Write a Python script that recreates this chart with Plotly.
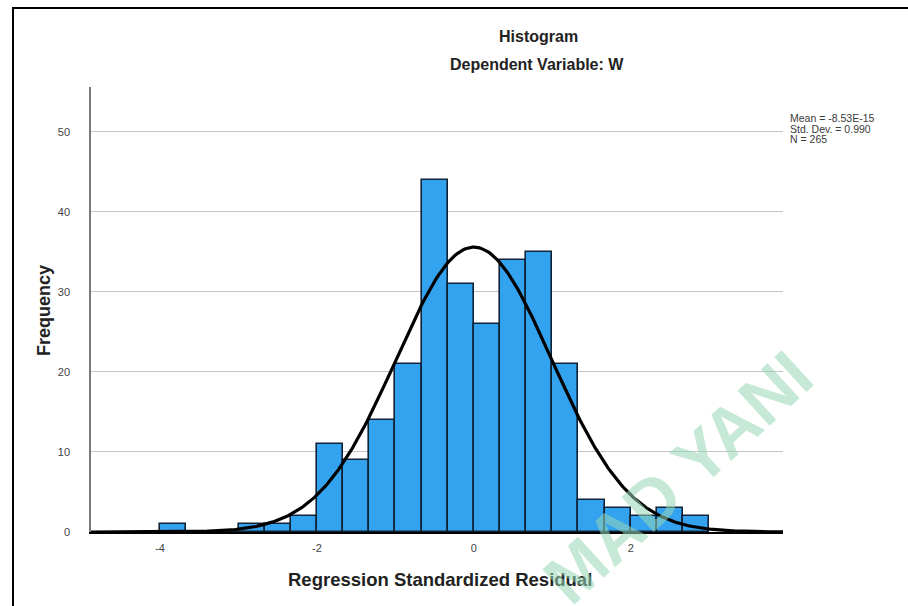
import numpy as np
import plotly.graph_objects as go

# Histogram of regression standardized residuals (bin width 1/3)
bin_left_edges = [-4.0, -11/3, -10/3, -3.0, -8/3, -7/3, -2.0, -5/3, -4/3, -1.0, -2/3,
                  -1/3, 0.0, 1/3, 2/3, 1.0, 4/3, 5/3, 2.0, 7/3, 8/3]
bin_counts = [1, 0, 0, 1, 1, 2, 11, 9, 14, 21, 44, 31, 26, 34, 35, 21, 4, 3, 2, 3, 2]
bin_width = 1/3

# Summary statistics shown beside the chart
stat_mean = -8.53e-15
stat_sd = 0.990
stat_n = 265

x_ticks = [-4, -2, 0, 2]
y_ticks = [0, 10, 20, 30, 40, 50]

FONT = "Liberation Sans, Arial, sans-serif"

# plot-area geometry in pixels (used to place the paper-anchored texts)
L, R, T, B = 91, 783, 87, 532
PW, PH = R - L, B - T


def px(xp):
    return (xp - L) / PW


def py(yp):
    return (B - yp) / PH


centers = [e + bin_width / 2 for e in bin_left_edges]

# Fitted normal curve scaled to counts
xs = np.linspace(-4.88, 3.94, 400)
ys = stat_n * bin_width * np.exp(-0.5 * ((xs - stat_mean) / stat_sd) ** 2) / (stat_sd * np.sqrt(2 * np.pi))

fig = go.Figure()
fig.add_trace(go.Bar(
    x=centers, y=bin_counts, width=bin_width,
    marker=dict(color="#34a3ef", line=dict(color="#0f2236", width=1.6)),
    hoverinfo="skip", showlegend=False,
))
fig.add_trace(go.Scatter(
    x=xs, y=ys, mode="lines",
    line=dict(color="#000000", width=3.2),
    hoverinfo="skip", showlegend=False,
))

fig.update_layout(
    width=908, height=606,
    margin=dict(l=L, r=908 - R, t=T, b=606 - B),
    paper_bgcolor="white", plot_bgcolor="white",
    font=dict(family=FONT, color="#222"),
    bargap=0,
    xaxis=dict(
        range=[-4.88, 3.94], tickvals=x_ticks, ticktext=[str(v) for v in x_ticks],
        showgrid=False, zeroline=False, showline=True, linecolor="#000", linewidth=2,
        ticks="", tickfont=dict(size=11, color="#444"), ticklabelstandoff=5,
    ),
    yaxis=dict(
        range=[0, 55.6], tickvals=y_ticks, ticktext=[str(v) for v in y_ticks],
        showgrid=True, gridcolor="#c4c4c4", gridwidth=1,
        zeroline=False, showline=True, linecolor="#7a7a7a", linewidth=1.5,
        ticks="", tickfont=dict(size=11, color="#444"), ticklabelstandoff=17,
    ),
)

ann = [
    dict(text="<b>Histogram</b>", x=px(538), y=py(37), font=dict(size=16, color="#222")),
    dict(text="<b>Dependent Variable: W</b>", x=px(537), y=py(65), font=dict(size=16, color="#222")),
    dict(text="<b>Regression Standardized Residual</b>", x=px(440), y=py(579),
         font=dict(size=18.5, color="#222")),
    dict(text="<b>Frequency</b>", x=px(44), y=py(311), textangle=-90,
         font=dict(size=18, color="#222")),
    dict(text=f"Mean = {stat_mean:.2E}", x=px(788), y=py(118.5),
         xanchor="left", font=dict(size=10.5, color="#3a3a3a")),
    dict(text=f"Std. Dev. = {stat_sd:.3f}", x=px(788), y=py(128.5),
         xanchor="left", font=dict(size=10.5, color="#3a3a3a")),
    dict(text=f"N = {stat_n}", x=px(788), y=py(138.5),
         xanchor="left", font=dict(size=10.5, color="#3a3a3a")),
    # faint diagonal watermark
    dict(text="<b>MAD YANI</b>", x=px(678), y=py(477), textangle=-42.5,
         font=dict(size=69, color="rgba(150,215,180,0.55)", family=FONT)),
]
for a in ann:
    a.setdefault("xanchor", "center")
    a.setdefault("yanchor", "middle")
    a.update(xref="paper", yref="paper", showarrow=False)
fig.update_layout(annotations=ann)

# outer frame (left and top edges visible)
fig.add_shape(type="path", xref="paper", yref="paper",
              path=f"M {px(13)} {py(700)} L {px(13)} {py(8)} L {px(1000)} {py(8)}",
              line=dict(color="#000", width=2))

fig.write_html("out.html")
